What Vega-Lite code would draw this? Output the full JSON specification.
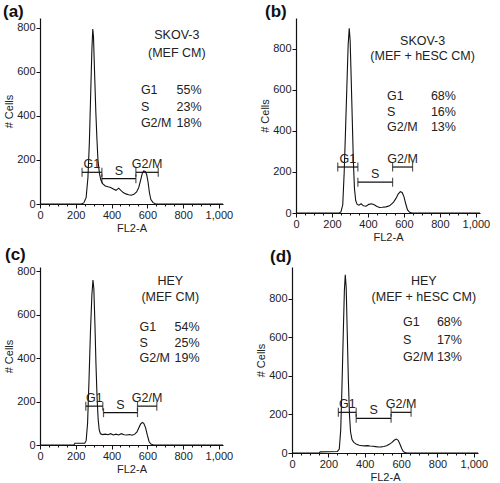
{
  "$schema": "https://vega.github.io/schema/vega-lite/v6.json",
  "padding": {"left": 3, "top": 3, "right": 2, "bottom": 2},
  "config": {
    "view": {"stroke": null},
    "font": "Liberation Sans",
    "axis": {"grid": false, "domainColor": "#111", "tickColor": "#111", "labelColor": "#222", "titleColor": "#222", "labelFont": "Liberation Sans", "titleFont": "Liberation Sans", "labelFontSize": 11, "titleFontSize": 11, "titleFontWeight": "normal", "labelFlush": false, "labelOverlap": false, "labelPadding": 1, "titlePadding": 2, "domainWidth": 1.2, "tickWidth": 1, "tickSize": 4},
    "title": {"anchor": "start", "frame": "group", "fontSize": 17, "fontWeight": "bold", "font": "Liberation Sans", "color": "#111", "offset": -3},
    "text": {"font": "Liberation Sans", "fontSize": 12.5, "color": "#222"},
    "line": {"color": "#111", "strokeWidth": 1.1},
    "rule": {"color": "#111", "strokeWidth": 1.2},
    "tick": {"color": "#111", "thickness": 1.2}
  },
  "datasets": {
    "a": [
      {"fl2a": 0, "cells": 0}, {"fl2a": 230, "cells": 0}, {"fl2a": 245, "cells": 5}, {"fl2a": 258, "cells": 30}, {"fl2a": 268, "cells": 120}, {"fl2a": 276, "cells": 280}, {"fl2a": 284, "cells": 520}, {"fl2a": 290, "cells": 700}, {"fl2a": 295, "cells": 795}, {"fl2a": 299, "cells": 760}, {"fl2a": 305, "cells": 600}, {"fl2a": 312, "cells": 420}, {"fl2a": 318, "cells": 300}, {"fl2a": 324, "cells": 200}, {"fl2a": 332, "cells": 140}, {"fl2a": 340, "cells": 110}, {"fl2a": 350, "cells": 92}, {"fl2a": 365, "cells": 82}, {"fl2a": 380, "cells": 78}, {"fl2a": 395, "cells": 75}, {"fl2a": 410, "cells": 68}, {"fl2a": 425, "cells": 62}, {"fl2a": 440, "cells": 72}, {"fl2a": 452, "cells": 62}, {"fl2a": 465, "cells": 52}, {"fl2a": 480, "cells": 46}, {"fl2a": 495, "cells": 42}, {"fl2a": 510, "cells": 40}, {"fl2a": 525, "cells": 44}, {"fl2a": 540, "cells": 55}, {"fl2a": 552, "cells": 75}, {"fl2a": 563, "cells": 110}, {"fl2a": 572, "cells": 140}, {"fl2a": 580, "cells": 150}, {"fl2a": 588, "cells": 148}, {"fl2a": 596, "cells": 135}, {"fl2a": 604, "cells": 100}, {"fl2a": 612, "cells": 50}, {"fl2a": 620, "cells": 20}, {"fl2a": 632, "cells": 6}, {"fl2a": 645, "cells": 1}, {"fl2a": 660, "cells": 0}, {"fl2a": 1023, "cells": 0}
    ],
    "b": [
      {"fl2a": 0, "cells": 0}, {"fl2a": 240, "cells": 0}, {"fl2a": 250, "cells": 5}, {"fl2a": 260, "cells": 40}, {"fl2a": 268, "cells": 200}, {"fl2a": 276, "cells": 420}, {"fl2a": 284, "cells": 650}, {"fl2a": 290, "cells": 820}, {"fl2a": 296, "cells": 900}, {"fl2a": 301, "cells": 840}, {"fl2a": 307, "cells": 650}, {"fl2a": 313, "cells": 450}, {"fl2a": 319, "cells": 250}, {"fl2a": 325, "cells": 120}, {"fl2a": 332, "cells": 60}, {"fl2a": 340, "cells": 42}, {"fl2a": 350, "cells": 38}, {"fl2a": 362, "cells": 45}, {"fl2a": 375, "cells": 35}, {"fl2a": 390, "cells": 33}, {"fl2a": 405, "cells": 42}, {"fl2a": 420, "cells": 45}, {"fl2a": 435, "cells": 40}, {"fl2a": 450, "cells": 32}, {"fl2a": 465, "cells": 27}, {"fl2a": 480, "cells": 28}, {"fl2a": 500, "cells": 30}, {"fl2a": 520, "cells": 35}, {"fl2a": 540, "cells": 50}, {"fl2a": 555, "cells": 70}, {"fl2a": 568, "cells": 92}, {"fl2a": 580, "cells": 104}, {"fl2a": 590, "cells": 100}, {"fl2a": 600, "cells": 80}, {"fl2a": 610, "cells": 45}, {"fl2a": 620, "cells": 15}, {"fl2a": 632, "cells": 3}, {"fl2a": 645, "cells": 0}, {"fl2a": 1023, "cells": 0}
    ],
    "c": [
      {"fl2a": 0, "cells": 0}, {"fl2a": 190, "cells": 0}, {"fl2a": 195, "cells": 8}, {"fl2a": 250, "cells": 8}, {"fl2a": 258, "cells": 20}, {"fl2a": 266, "cells": 100}, {"fl2a": 274, "cells": 300}, {"fl2a": 282, "cells": 520}, {"fl2a": 290, "cells": 690}, {"fl2a": 296, "cells": 760}, {"fl2a": 301, "cells": 720}, {"fl2a": 307, "cells": 560}, {"fl2a": 313, "cells": 370}, {"fl2a": 319, "cells": 220}, {"fl2a": 325, "cells": 120}, {"fl2a": 331, "cells": 70}, {"fl2a": 338, "cells": 52}, {"fl2a": 350, "cells": 48}, {"fl2a": 365, "cells": 50}, {"fl2a": 380, "cells": 47}, {"fl2a": 395, "cells": 52}, {"fl2a": 410, "cells": 46}, {"fl2a": 425, "cells": 50}, {"fl2a": 440, "cells": 46}, {"fl2a": 455, "cells": 52}, {"fl2a": 470, "cells": 47}, {"fl2a": 485, "cells": 46}, {"fl2a": 500, "cells": 48}, {"fl2a": 515, "cells": 45}, {"fl2a": 530, "cells": 50}, {"fl2a": 542, "cells": 60}, {"fl2a": 552, "cells": 78}, {"fl2a": 562, "cells": 96}, {"fl2a": 572, "cells": 104}, {"fl2a": 580, "cells": 100}, {"fl2a": 590, "cells": 80}, {"fl2a": 600, "cells": 45}, {"fl2a": 610, "cells": 15}, {"fl2a": 620, "cells": 4}, {"fl2a": 635, "cells": 0}, {"fl2a": 1023, "cells": 0}
    ],
    "d": [
      {"fl2a": 0, "cells": 0}, {"fl2a": 150, "cells": 0}, {"fl2a": 155, "cells": 6}, {"fl2a": 250, "cells": 8}, {"fl2a": 260, "cells": 20}, {"fl2a": 268, "cells": 120}, {"fl2a": 275, "cells": 350}, {"fl2a": 282, "cells": 620}, {"fl2a": 288, "cells": 840}, {"fl2a": 293, "cells": 925}, {"fl2a": 298, "cells": 860}, {"fl2a": 304, "cells": 620}, {"fl2a": 310, "cells": 380}, {"fl2a": 316, "cells": 200}, {"fl2a": 322, "cells": 110}, {"fl2a": 330, "cells": 70}, {"fl2a": 340, "cells": 55}, {"fl2a": 355, "cells": 45}, {"fl2a": 370, "cells": 40}, {"fl2a": 385, "cells": 38}, {"fl2a": 400, "cells": 37}, {"fl2a": 415, "cells": 38}, {"fl2a": 430, "cells": 36}, {"fl2a": 445, "cells": 35}, {"fl2a": 460, "cells": 33}, {"fl2a": 475, "cells": 31}, {"fl2a": 490, "cells": 32}, {"fl2a": 505, "cells": 34}, {"fl2a": 520, "cells": 38}, {"fl2a": 535, "cells": 45}, {"fl2a": 550, "cells": 55}, {"fl2a": 562, "cells": 66}, {"fl2a": 574, "cells": 72}, {"fl2a": 584, "cells": 66}, {"fl2a": 594, "cells": 45}, {"fl2a": 604, "cells": 22}, {"fl2a": 612, "cells": 8}, {"fl2a": 622, "cells": 2}, {"fl2a": 632, "cells": 0}, {"fl2a": 1023, "cells": 0}
    ],
    "a_gates": [{"gate": "G1", "start": 235, "end": 346, "level": 144}, {"gate": "S", "start": 346, "end": 536, "level": 115}, {"gate": "G2/M", "start": 536, "end": 661, "level": 144}],
    "b_gates": [{"gate": "G1", "start": 232, "end": 344, "level": 224}, {"gate": "S", "start": 344, "end": 537, "level": 150}, {"gate": "G2/M", "start": 537, "end": 648, "level": 224}],
    "c_gates": [{"gate": "G1", "start": 256, "end": 351, "level": 179}, {"gate": "S", "start": 355, "end": 545, "level": 149}, {"gate": "G2/M", "start": 545, "end": 653, "level": 179}],
    "d_gates": [{"gate": "G1", "start": 255, "end": 353, "level": 211}, {"gate": "S", "start": 353, "end": 545, "level": 180}, {"gate": "G2/M", "start": 545, "end": 655, "level": 211}],
    "a_head": [{"line": "SKOV-3", "y": 768}, {"line": "(MEF CM)", "y": 688}],
    "b_head": [{"line": "SKOV-3", "y": 838}, {"line": "(MEF + hESC CM)", "y": 764}],
    "c_head": [{"line": "HEY", "y": 757}, {"line": "(MEF CM)", "y": 680}],
    "d_head": [{"line": "HEY", "y": 890}, {"line": "(MEF + hESC CM)", "y": 809}],
    "a_stats": [{"phase": "G1", "share": "55%", "y": 518}, {"phase": "S", "share": "23%", "y": 442}, {"phase": "G2/M", "share": "18%", "y": 367}],
    "b_stats": [{"phase": "G1", "share": "68%", "y": 569}, {"phase": "S", "share": "16%", "y": 493}, {"phase": "G2/M", "share": "13%", "y": 420}],
    "c_stats": [{"phase": "G1", "share": "54%", "y": 542}, {"phase": "S", "share": "25%", "y": 470}, {"phase": "G2/M", "share": "19%", "y": 401}],
    "d_stats": [{"phase": "G1", "share": "68%", "y": 679}, {"phase": "S", "share": "17%", "y": 584}, {"phase": "G2/M", "share": "13%", "y": 497}]
  },
  "spacing": 4,
  "vconcat": [
    {
      "spacing": 26,
      "hconcat": [
        {
          "width": 183, "height": 186,
          "title": {"text": "(a)", "dx": -37},
          "resolve": {"axis": {"x": "independent"}},
          "layer": [
            {"data": {"name": "a"}, "mark": {"type": "line"}, "encoding": {
              "x": {"field": "fl2a", "type": "quantitative", "scale": {"domain": [0, 1023], "nice": false}, "axis": {"orient": "bottom", "title": "FL2-A", "values": [0, 200, 400, 600, 800, 1000]}},
              "y": {"field": "cells", "type": "quantitative", "scale": {"domain": [0, 845], "nice": false}, "axis": {"title": "# Cells", "values": [0,50,100,150,200,250,300,350,400,450,500,550,600,650,700,750,800], "labelExpr": "datum.value % 200 === 0 ? datum.label : ''", "tickSize": {"condition": {"test": "datum.value % 200 === 0", "value": 4}, "value": 2}}}
            }},
            {"data": {"name": "a_gates"}, "mark": {"type": "rule"}, "encoding": {"x": {"field": "start", "type": "quantitative", "axis": {"orient": "bottom", "title": null, "labels": false, "domain": false, "tickSize": 2, "values": [50,100,150,250,300,350,450,500,550,650,700,750,850,900,950]}}, "x2": {"field": "end"}, "y": {"field": "level", "type": "quantitative"}}},
            {"data": {"name": "a_gates"}, "mark": {"type": "tick", "orient": "vertical", "size": 9}, "encoding": {"x": {"field": "start", "type": "quantitative", "axis": null}, "y": {"field": "level", "type": "quantitative"}}},
            {"data": {"name": "a_gates"}, "mark": {"type": "tick", "orient": "vertical", "size": 9}, "encoding": {"x": {"field": "end", "type": "quantitative", "axis": null}, "y": {"field": "level", "type": "quantitative"}}},
            {"data": {"name": "a_gates"}, "transform": [{"calculate": "(datum.start + datum.end) / 2", "as": "mid"}], "mark": {"type": "text", "baseline": "bottom", "dy": -1}, "encoding": {"x": {"field": "mid", "type": "quantitative", "axis": null}, "y": {"field": "level", "type": "quantitative"}, "text": {"field": "gate"}}},
            {"data": {"name": "a_head"}, "mark": {"type": "text", "align": "center", "baseline": "middle"}, "encoding": {"x": {"datum": 765, "axis": null}, "y": {"field": "y", "type": "quantitative"}, "text": {"field": "line"}}},
            {"data": {"name": "a_stats"}, "mark": {"type": "text", "align": "left", "baseline": "middle"}, "encoding": {"x": {"datum": 564, "axis": null}, "y": {"field": "y", "type": "quantitative"}, "text": {"field": "phase"}}},
            {"data": {"name": "a_stats"}, "mark": {"type": "text", "align": "left", "baseline": "middle"}, "encoding": {"x": {"datum": 763, "axis": null}, "y": {"field": "y", "type": "quantitative"}, "text": {"field": "share"}}}
          ]
        },
        {
          "width": 184, "height": 195,
          "title": {"text": "(b)", "dx": -31},
          "resolve": {"axis": {"x": "independent"}},
          "layer": [
            {"data": {"name": "b"}, "mark": {"type": "line"}, "encoding": {
              "x": {"field": "fl2a", "type": "quantitative", "scale": {"domain": [0, 1023], "nice": false}, "axis": {"orient": "bottom", "title": "FL2-A", "values": [0, 200, 400, 600, 800, 1000]}},
              "y": {"field": "cells", "type": "quantitative", "scale": {"domain": [0, 950], "nice": false}, "axis": {"title": "# Cells", "values": [0,50,100,150,200,250,300,350,400,450,500,550,600,650,700,750,800,850,900], "labelExpr": "datum.value % 200 === 0 ? datum.label : ''", "tickSize": {"condition": {"test": "datum.value % 200 === 0", "value": 4}, "value": 2}}}
            }},
            {"data": {"name": "b_gates"}, "mark": {"type": "rule"}, "encoding": {"x": {"field": "start", "type": "quantitative", "axis": {"orient": "bottom", "title": null, "labels": false, "domain": false, "tickSize": 2, "values": [50,100,150,250,300,350,450,500,550,650,700,750,850,900,950]}}, "x2": {"field": "end"}, "y": {"field": "level", "type": "quantitative"}}},
            {"data": {"name": "b_gates"}, "mark": {"type": "tick", "orient": "vertical", "size": 9}, "encoding": {"x": {"field": "start", "type": "quantitative", "axis": null}, "y": {"field": "level", "type": "quantitative"}}},
            {"data": {"name": "b_gates"}, "mark": {"type": "tick", "orient": "vertical", "size": 9}, "encoding": {"x": {"field": "end", "type": "quantitative", "axis": null}, "y": {"field": "level", "type": "quantitative"}}},
            {"data": {"name": "b_gates"}, "transform": [{"calculate": "(datum.start + datum.end) / 2", "as": "mid"}], "mark": {"type": "text", "baseline": "bottom", "dy": -1}, "encoding": {"x": {"field": "mid", "type": "quantitative", "axis": null}, "y": {"field": "level", "type": "quantitative"}, "text": {"field": "gate"}}},
            {"data": {"name": "b_head"}, "mark": {"type": "text", "align": "center", "baseline": "middle"}, "encoding": {"x": {"datum": 704, "axis": null}, "y": {"field": "y", "type": "quantitative"}, "text": {"field": "line"}}},
            {"data": {"name": "b_stats"}, "mark": {"type": "text", "align": "left", "baseline": "middle"}, "encoding": {"x": {"datum": 506, "axis": null}, "y": {"field": "y", "type": "quantitative"}, "text": {"field": "phase"}}},
            {"data": {"name": "b_stats"}, "mark": {"type": "text", "align": "left", "baseline": "middle"}, "encoding": {"x": {"datum": 750, "axis": null}, "y": {"field": "y", "type": "quantitative"}, "text": {"field": "share"}}}
          ]
        }
      ]
    },
    {
      "spacing": 22,
      "hconcat": [
        {
          "width": 183, "height": 178,
          "title": {"text": "(c)", "dx": -35, "offset": 1},
          "resolve": {"axis": {"x": "independent"}},
          "layer": [
            {"data": {"name": "c"}, "mark": {"type": "line"}, "encoding": {
              "x": {"field": "fl2a", "type": "quantitative", "scale": {"domain": [0, 1023], "nice": false}, "axis": {"orient": "bottom", "title": "FL2-A", "values": [0, 200, 400, 600, 800, 1000]}},
              "y": {"field": "cells", "type": "quantitative", "scale": {"domain": [0, 820], "nice": false}, "axis": {"title": "# Cells", "values": [0,50,100,150,200,250,300,350,400,450,500,550,600,650,700,750,800], "labelExpr": "datum.value % 200 === 0 ? datum.label : ''", "tickSize": {"condition": {"test": "datum.value % 200 === 0", "value": 4}, "value": 2}}}
            }},
            {"data": {"name": "c_gates"}, "mark": {"type": "rule"}, "encoding": {"x": {"field": "start", "type": "quantitative", "axis": {"orient": "bottom", "title": null, "labels": false, "domain": false, "tickSize": 2, "values": [50,100,150,250,300,350,450,500,550,650,700,750,850,900,950]}}, "x2": {"field": "end"}, "y": {"field": "level", "type": "quantitative"}}},
            {"data": {"name": "c_gates"}, "mark": {"type": "tick", "orient": "vertical", "size": 9}, "encoding": {"x": {"field": "start", "type": "quantitative", "axis": null}, "y": {"field": "level", "type": "quantitative"}}},
            {"data": {"name": "c_gates"}, "mark": {"type": "tick", "orient": "vertical", "size": 9}, "encoding": {"x": {"field": "end", "type": "quantitative", "axis": null}, "y": {"field": "level", "type": "quantitative"}}},
            {"data": {"name": "c_gates"}, "transform": [{"calculate": "(datum.start + datum.end) / 2", "as": "mid"}], "mark": {"type": "text", "baseline": "bottom", "dy": -1}, "encoding": {"x": {"field": "mid", "type": "quantitative", "axis": null}, "y": {"field": "level", "type": "quantitative"}, "text": {"field": "gate"}}},
            {"data": {"name": "c_head"}, "mark": {"type": "text", "align": "center", "baseline": "middle"}, "encoding": {"x": {"datum": 728, "axis": null}, "y": {"field": "y", "type": "quantitative"}, "text": {"field": "line"}}},
            {"data": {"name": "c_stats"}, "mark": {"type": "text", "align": "left", "baseline": "middle"}, "encoding": {"x": {"datum": 556, "axis": null}, "y": {"field": "y", "type": "quantitative"}, "text": {"field": "phase"}}},
            {"data": {"name": "c_stats"}, "mark": {"type": "text", "align": "left", "baseline": "middle"}, "encoding": {"x": {"datum": 752, "axis": null}, "y": {"field": "y", "type": "quantitative"}, "text": {"field": "share"}}}
          ]
        },
        {
          "width": 186, "height": 186,
          "title": {"text": "(d)", "dx": -22, "offset": 1},
          "resolve": {"axis": {"x": "independent"}},
          "layer": [
            {"data": {"name": "d"}, "mark": {"type": "line"}, "encoding": {
              "x": {"field": "fl2a", "type": "quantitative", "scale": {"domain": [0, 1023], "nice": false}, "axis": {"orient": "bottom", "title": "FL2-A", "values": [0, 200, 400, 600, 800, 1000]}},
              "y": {"field": "cells", "type": "quantitative", "scale": {"domain": [0, 965], "nice": false}, "axis": {"title": "# Cells", "values": [0,50,100,150,200,250,300,350,400,450,500,550,600,650,700,750,800,850,900,950], "labelExpr": "datum.value % 200 === 0 ? datum.label : ''", "tickSize": {"condition": {"test": "datum.value % 200 === 0", "value": 4}, "value": 2}}}
            }},
            {"data": {"name": "d_gates"}, "mark": {"type": "rule"}, "encoding": {"x": {"field": "start", "type": "quantitative", "axis": {"orient": "bottom", "title": null, "labels": false, "domain": false, "tickSize": 2, "values": [50,100,150,250,300,350,450,500,550,650,700,750,850,900,950]}}, "x2": {"field": "end"}, "y": {"field": "level", "type": "quantitative"}}},
            {"data": {"name": "d_gates"}, "mark": {"type": "tick", "orient": "vertical", "size": 9}, "encoding": {"x": {"field": "start", "type": "quantitative", "axis": null}, "y": {"field": "level", "type": "quantitative"}}},
            {"data": {"name": "d_gates"}, "mark": {"type": "tick", "orient": "vertical", "size": 9}, "encoding": {"x": {"field": "end", "type": "quantitative", "axis": null}, "y": {"field": "level", "type": "quantitative"}}},
            {"data": {"name": "d_gates"}, "transform": [{"calculate": "(datum.start + datum.end) / 2", "as": "mid"}], "mark": {"type": "text", "baseline": "bottom", "dy": -1}, "encoding": {"x": {"field": "mid", "type": "quantitative", "axis": null}, "y": {"field": "level", "type": "quantitative"}, "text": {"field": "gate"}}},
            {"data": {"name": "d_head"}, "mark": {"type": "text", "align": "center", "baseline": "middle"}, "encoding": {"x": {"datum": 725, "axis": null}, "y": {"field": "y", "type": "quantitative"}, "text": {"field": "line"}}},
            {"data": {"name": "d_stats"}, "mark": {"type": "text", "align": "left", "baseline": "middle"}, "encoding": {"x": {"datum": 611, "axis": null}, "y": {"field": "y", "type": "quantitative"}, "text": {"field": "phase"}}},
            {"data": {"name": "d_stats"}, "mark": {"type": "text", "align": "left", "baseline": "middle"}, "encoding": {"x": {"datum": 797, "axis": null}, "y": {"field": "y", "type": "quantitative"}, "text": {"field": "share"}}}
          ]
        }
      ]
    }
  ]
}
